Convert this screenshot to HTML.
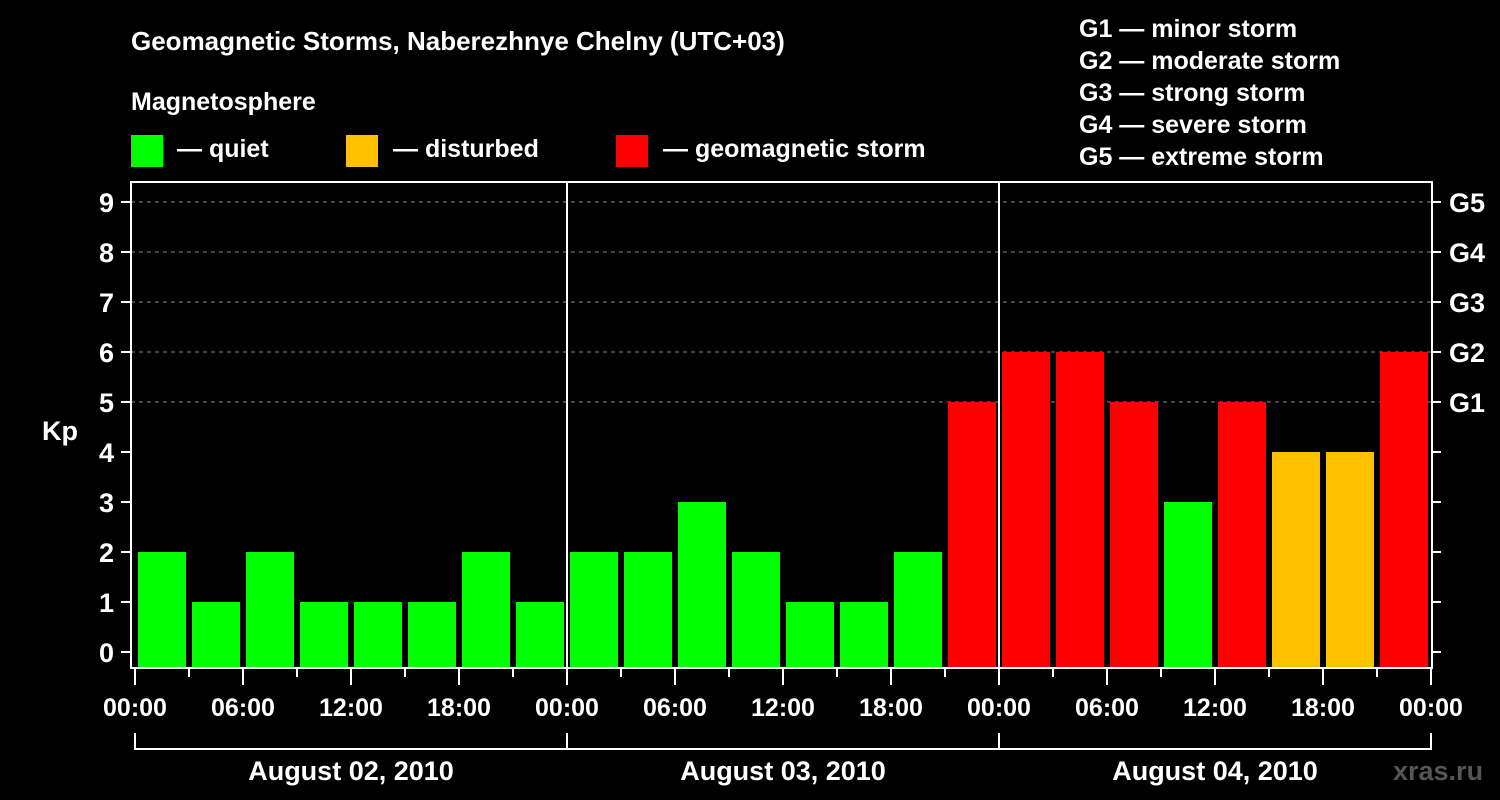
<!DOCTYPE html>
<html><head><meta charset="utf-8"><style>
body{margin:0;background:#000;}
svg{display:block;font-family:"Liberation Sans",Arial,sans-serif;font-weight:bold;}
</style></head><body>
<svg id="chart" width="1500" height="800" viewBox="0 0 1500 800">
<rect width="1500" height="800" fill="#000"/>
<text x="131" y="50" fill="#fff" font-size="26">Geomagnetic Storms, Naberezhnye Chelny (UTC+03)</text>
<text x="131" y="110" fill="#fff" font-size="25">Magnetosphere</text>
<g>
<rect x="131" y="135" width="32" height="32" fill="#00ff00"/>
<text x="177" y="157" fill="#fff" font-size="25">— quiet</text>
<rect x="346" y="135" width="32" height="32" fill="#ffc000"/>
<text x="393" y="157" fill="#fff" font-size="25">— disturbed</text>
<rect x="616" y="135" width="32" height="32" fill="#ff0000"/>
<text x="663" y="157" fill="#fff" font-size="25">— geomagnetic storm</text>
</g>
<g fill="#fff" font-size="25">
<text x="1079" y="37">G1 — minor storm</text>
<text x="1079" y="69">G2 — moderate storm</text>
<text x="1079" y="101">G3 — strong storm</text>
<text x="1079" y="133">G4 — severe storm</text>
<text x="1079" y="165">G5 — extreme storm</text>
</g>
<text x="42" y="440" fill="#fff" font-size="27">Kp</text>
<text x="1393" y="780" fill="#555" font-size="27">xras.ru</text>
<g id="plot"></g>
</svg>
<script>
const kpValues=[2,1,2,1,1,1,2,1, 2,2,3,2,1,1,2,5, 6,6,5,3,5,4,4,6];
const dayLabels=["August 02, 2010","August 03, 2010","August 04, 2010"];
const hourLabels=["00:00","06:00","12:00","18:00"];
const gLabels=["G1","G2","G3","G4","G5"];
const yTicks=[0,1,2,3,4,5,6,7,8,9];
const NS="http://www.w3.org/2000/svg";
const g=document.getElementById('plot');
const L=131,R=1432,T=182,B=668,X0=135,DAY=432;
const y=v=>652-50*v;
const x=h=>X0+h*DAY/24;
function mk(t,a,p){const e=document.createElementNS(NS,t);for(const k in a)e.setAttribute(k,a[k]);(p||g).appendChild(e);return e;}
// grid
for(let v=5;v<=9;v++){const e=mk('line',{x1:L,x2:R,y1:y(v),y2:y(v),stroke:'#888','stroke-dasharray':'4,4','stroke-width':1});

}
// bars
kpValues.forEach((v,i)=>{const c=v>=5?'#ff0000':v>=4?'#ffc000':'#00ff00';
const e=mk('rect',{x:x(i*3)+3,y:y(v),width:48,height:B-y(v),fill:c});

});
// day separators
for(let d=1;d<3;d++){const e=mk('line',{x1:x(d*24),x2:x(d*24),y1:T,y2:B,stroke:'#fff','stroke-width':2});

}
// frame
const fr=mk('rect',{x:L,y:T,width:R-L,height:B-T,fill:'none',stroke:'#fff','stroke-width':2});


// y ticks/labels
yTicks.forEach(v=>{mk('line',{x1:121,x2:L,y1:y(v),y2:y(v),stroke:'#fff','stroke-width':2});
mk('line',{x1:R,x2:1441,y1:y(v),y2:y(v),stroke:'#fff','stroke-width':2});
const t=mk('text',{x:114,y:y(v)+10,fill:'#fff','font-size':27,'text-anchor':'end'});t.textContent=v;

});
gLabels.forEach((s,i)=>{const t=mk('text',{x:1449,y:y(5+i)+10,fill:'#fff','font-size':27});t.textContent=s;

});
// x ticks
for(let h=0;h<=72;h+=3){const major=h%6===0;mk('line',{x1:x(h),x2:x(h),y1:B,y2:major?685:677,stroke:'#fff','stroke-width':2});
if(h%18===0||h===72){}}
for(let h=0;h<=72;h+=6){if(h%24===0||h%6===0){const lab=hourLabels[(h%24)/6];
if(h%6===0&&(h%24)%6===0&&(h%24)<24){}
}}
for(let d=0;d<=3;d++)for(let k=0;k<4;k++){const h=d*24+k*6;if(h>72)break;
const t=mk('text',{x:x(h),y:716,fill:'#fff','font-size':25,'text-anchor':'middle'});t.textContent=hourLabels[k];

}
// day bracket
mk('path',{d:`M${x(0)} 733V749H${x(72)}V733M${x(24)} 733V749M${x(48)} 733V749`,fill:'none',stroke:'#fff','stroke-width':2});
dayLabels.forEach((s,d)=>{const t=mk('text',{x:x(d*24+12),y:780,fill:'#fff','font-size':27,'text-anchor':'middle'});t.textContent=s;

});
</script>
</body></html>
